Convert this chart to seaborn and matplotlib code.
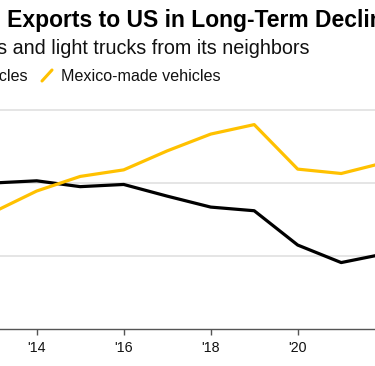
import matplotlib
matplotlib.use("Agg")
import matplotlib.pyplot as plt
from matplotlib.lines import Line2D
import seaborn as sns
import pandas as pd

# ---- data (millions of vehicles) ----
years = [2013, 2014, 2015, 2016, 2017, 2018, 2019, 2020, 2021, 2022]
canada = [2.00, 2.03, 1.95, 1.98, 1.82, 1.67, 1.62, 1.15, 0.91, 1.03]
mexico = [1.60, 1.89, 2.09, 2.18, 2.44, 2.67, 2.80, 2.19, 2.13, 2.28]
series_names = ["Canada-made vehicles", "Mexico-made vehicles"]
tick_years = [2014, 2016, 2018, 2020]
tick_labels = ["'14", "'16", "'18", "'20"]
grid_values = [1, 2, 3]

title = "Canada's Auto Exports to US in Long-Term Decline"
subtitle = "US imports of passenger cars and light trucks from its neighbors"

BLACK = "#000000"
YELLOW = "#FFC100"

df = pd.DataFrame({
    "year": years * 2,
    "value": canada + mexico,
    "series": [series_names[0]] * len(years) + [series_names[1]] * len(years),
})

sns.set_style("white")
plt.rcParams["font.family"] = ["Liberation Sans", "DejaVu Sans"]

W, H = 375, 366
fig = plt.figure(figsize=(W / 100, H / 100), dpi=100)

def fx(px):
    return px / W

def fy(py):
    return 1 - py / H

# axes: baseline at y=329px, top at ~95px; spans full width (cropped view)
ax = fig.add_axes([0, fy(329), 1, (329 - 95.4) / H])

for g in grid_values:
    ax.axhline(g, color="#dedede", lw=1.1, zorder=0)

sns.lineplot(data=df, x="year", y="value", hue="series",
             palette={series_names[0]: BLACK, series_names[1]: YELLOW},
             linewidth=2.3, legend=False, ax=ax, zorder=3)

ax.set_xlim(2014 - 36.7 / 43.5, 2014 + (375 - 36.7) / 43.5)
ax.set_ylim(0, 3.2)
ax.set_xticks(tick_years)
ax.set_xticklabels(tick_labels)
ax.set_yticks([])
ax.set_xlabel("")
ax.set_ylabel("")
for s in ["top", "left", "right"]:
    ax.spines[s].set_visible(False)
ax.spines["bottom"].set_color("#555555")
ax.spines["bottom"].set_linewidth(1.0)
ax.tick_params(axis="x", direction="out", length=4, width=1.0, color="#555555",
               pad=5, labelsize=10.3, labelcolor="#111111", bottom=True)

renderer = fig.canvas.get_renderer()

def text_width(s, **kw):
    t = fig.text(0, 0, s, **kw)
    w = t.get_window_extent(renderer).width
    t.remove()
    return w

# title: position so that "Exports" starts at x~7px
tkw = dict(fontsize=16.5, fontweight="bold", color="#000000")
prefix_w = text_width("Canada's Auto E", **tkw) - text_width("E", **tkw)
fig.text(fx(7.3 - prefix_w), fy(27), title, ha="left", va="baseline", **tkw)

# subtitle: right end of "neighbors" at x~310px
fig.text(fx(310), fy(54), subtitle, ha="right", va="baseline",
         fontsize=14.2, color="#111111")

# legend
lkw = dict(fontsize=11.6, color="#111111")
fig.text(fx(27.5), fy(81), series_names[0], ha="right", va="baseline", **lkw)
can_w = text_width(series_names[0], **lkw)
cl = 27.5 - can_w
fig.add_artist(Line2D([fx(cl - 19), fx(cl - 9)], [fy(81), fy(70)],
                      color=BLACK, lw=2.2, transform=fig.transFigure))
fig.add_artist(Line2D([fx(42), fx(52)], [fy(81), fy(70)],
                      color=YELLOW, lw=2.2, transform=fig.transFigure))
fig.text(fx(61), fy(81), series_names[1], ha="left", va="baseline", **lkw)

fig.savefig("out.png", dpi=100)
